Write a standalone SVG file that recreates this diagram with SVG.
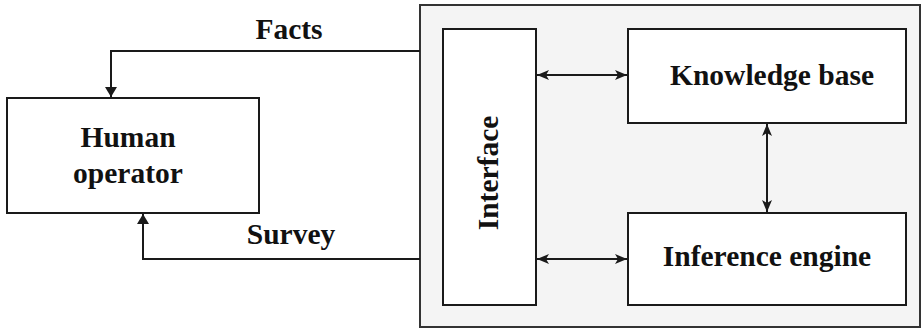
<svg xmlns="http://www.w3.org/2000/svg" width="922" height="328" viewBox="0 0 922 328">
<style>
.box{fill:#ffffff;stroke:#1a1a1a;stroke-width:2}
.cont{fill:#f4f4f4;stroke:#333333;stroke-width:2}
.ln{fill:none;stroke:#1a1a1a;stroke-width:2}
.t{font-family:"Liberation Serif","Times New Roman",serif;font-weight:bold;font-size:29.5px;fill:#111111;text-anchor:middle}
</style>
<defs>
<marker id="ah" viewBox="0 0 12 10" refX="12" refY="5" markerWidth="12" markerHeight="10" markerUnits="userSpaceOnUse" orient="auto-start-reverse">
<path d="M0,0 L12,5 L0,10 L3,5 Z" fill="#1a1a1a"/>
</marker>
<marker id="tri" viewBox="0 0 10 12" refX="10" refY="6" markerWidth="13" markerHeight="12" markerUnits="userSpaceOnUse" orient="auto">
<path d="M0,0 L10,6 L0,12 Z" fill="#1a1a1a"/>
</marker>
</defs>
<rect width="922" height="328" fill="#ffffff"/>
<g id="system">
<rect class="cont" x="420" y="5" width="500" height="322"/>
</g>
<g id="human-operator">
<rect class="box" x="7" y="98" width="252" height="115"/>
<text class="t" x="128" y="147">Human</text>
<text class="t" x="128" y="183">operator</text>
</g>
<g id="interface">
<rect class="box" x="443" y="29" width="93" height="276"/>
<text class="t" transform="translate(498,173) rotate(-90)">Interface</text>
</g>
<g id="knowledge-base">
<rect class="box" x="628" y="29" width="278" height="94"/>
<text class="t" x="772" y="85">Knowledge base</text>
</g>
<g id="inference-engine">
<rect class="box" x="628" y="213" width="278" height="92"/>
<text class="t" x="767" y="266">Inference engine</text>
</g>
<g id="connectors">
<polyline class="ln" points="420,51 111,51 111,97" marker-end="url(#tri)"/>
<polyline class="ln" points="420,259 143,259 143,214" marker-end="url(#tri)"/>
<line class="ln" x1="537" y1="75" x2="627" y2="75" marker-start="url(#ah)" marker-end="url(#ah)"/>
<line class="ln" x1="537" y1="259" x2="627" y2="259" marker-start="url(#ah)" marker-end="url(#ah)"/>
<line class="ln" x1="767" y1="124" x2="767" y2="212" marker-start="url(#ah)" marker-end="url(#ah)"/>
<text class="t" x="289" y="39">Facts</text>
<text class="t" x="291" y="244">Survey</text>
</g>
</svg>
